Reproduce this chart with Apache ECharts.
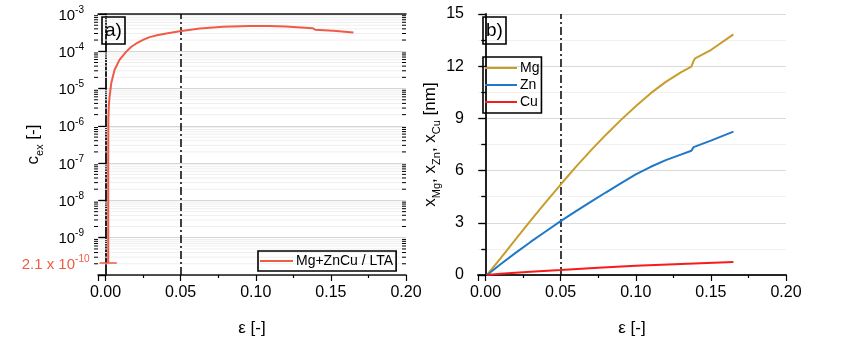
<!DOCTYPE html>
<html>
<head>
<meta charset="utf-8">
<script src="https://cdn.jsdelivr.net/npm/echarts@6/dist/echarts.min.js"></script>
<style>
  html, body { margin: 0; padding: 0; background: #fff; }
  #chart { width: 842px; height: 351px; }
</style>
</head>
<body>
<div id="chart"></div>
<script>
// panel a) excess concentration
const epsA = [0.0018, 0.0018, 0.0019, 0.0022, 0.0027, 0.0038, 0.006, 0.0093, 0.0138, 0.017, 0.0205, 0.025, 0.0293,
  0.035, 0.0405, 0.0493, 0.0627, 0.0782, 0.096, 0.109, 0.12, 0.13, 0.138, 0.1395, 0.1516, 0.165];
const cexA = [2.1e-10, 1e-7, 1.5e-6, 3.5e-6, 6.0e-6, 1.38e-5, 3.16e-5, 5.9e-5, 9.8e-5, 1.3e-4, 1.62e-4, 2.02e-4, 2.4e-4,
  2.72e-4, 3.0e-4, 3.45e-4, 4.1e-4, 4.55e-4, 4.8e-4, 4.75e-4, 4.6e-4, 4.35e-4, 4.15e-4, 3.8e-4, 3.55e-4, 3.2e-4];
const capEps = [-0.004, 0.0075];
const capC = 2.1e-10;

// panel b) x_Mg, x_Zn, x_Cu
const epsMg = [0.001, 0.01, 0.02, 0.03, 0.04, 0.05, 0.06, 0.07, 0.08, 0.09, 0.1, 0.11, 0.12, 0.13, 0.137, 0.1385, 0.1395, 0.15, 0.165];
const xMg = [0, 0.95, 2.05, 3.12, 4.17, 5.2, 6.2, 7.15, 8.05, 8.9, 9.7, 10.45, 11.1, 11.65, 11.97, 12.3, 12.45, 12.93, 13.83];
const epsZn = [0.001, 0.01, 0.02, 0.03, 0.04, 0.05, 0.06, 0.07, 0.08, 0.09, 0.1, 0.11, 0.12, 0.13, 0.137, 0.1385, 0.1395, 0.15, 0.165];
const xZn = [0, 0.62, 1.27, 1.9, 2.5, 3.1, 3.66, 4.2, 4.74, 5.27, 5.78, 6.22, 6.6, 6.92, 7.14, 7.35, 7.43, 7.72, 8.24];
const epsCu = [0.001, 0.01, 0.02, 0.03, 0.05, 0.075, 0.1, 0.13, 0.165];
const xCu = [0, 0.07, 0.13, 0.19, 0.29, 0.42, 0.53, 0.63, 0.74];

const xTicksLabelled = [0, 0.05, 0.1, 0.15, 0.2];
const markEps = 0.05;

const colA = '#ef5b45', colMg = '#c89d2c', colZn = '#1f78c8', colCu = '#f51c1c';
const font = 'Liberation Sans, Arial, sans-serif';
const frame = { show: true, lineStyle: { color: '#1a1a1a', width: 1.6 } };
const dashDot = { color: '#000', width: 1.5, type: [8, 3, 2, 3] };

const log10 = Math.log10;
const pairs = (xs, ys, f) => xs.map((x, i) => [x, f ? f(ys[i]) : ys[i]]);

// log-decade minor positions for panel a
const minorLog = [];
for (let n = -10; n < -3; n++) for (let k = 2; k <= 9; k++) minorLog.push([0, n + log10(k)]);

function xBottom(gridIndex) {
  return {
    gridIndex, type: 'value', min: -0.005, max: 0.2, splitNumber: 4,
    axisLine: frame,
    axisTick: { show: true, length: 6, lineStyle: { color: '#000', width: 1.2 } },
    minorTick: { show: true, splitNumber: 2, length: 3, lineStyle: { color: '#000', width: 1.2 } },
    splitLine: { show: false },
    axisLabel: {
      color: '#000', fontSize: 16, fontFamily: font, margin: 10,
      formatter: v => xTicksLabelled.some(t => Math.abs(t - v) < 1e-9) ? v.toFixed(2) : ''
    },
    name: 'ε [-]', nameLocation: 'middle', nameGap: 45,
    nameTextStyle: { color: '#000', fontSize: 17, fontFamily: font }
  };
}
function xTop(gridIndex) {
  return {
    gridIndex, type: 'value', position: 'top', min: -0.005, max: 0.2,
    axisLine: frame, axisTick: { show: false }, axisLabel: { show: false }, splitLine: { show: false }
  };
}
const boxTitle = (text, left) => ({
  text, left, top: 17, padding: [4, 3, 4, 3], borderColor: '#000', borderWidth: 1.6,
  textStyle: { fontSize: 19, fontWeight: 'normal', color: '#000', fontFamily: font }
});
const legendBox = {
  orient: 'vertical', icon: 'rect', itemHeight: 2, itemGap: 3,
  borderColor: '#000', borderWidth: 1.6, borderRadius: 0,
  textStyle: { fontSize: 14, color: '#000', fontFamily: font, lineHeight: 14, padding: [0, 0, 0, -2] }
};

const option = {
  animation: false,
  backgroundColor: '#fff',
  title: [boxTitle('a)', 102), boxTitle('b)', 483)],
  legend: [
    Object.assign({}, legendBox, { data: ['Mg+ZnCu / LTA'], left: 258, top: 251, padding: [3, 3, 3, 2], itemWidth: 33 }),
    Object.assign({}, legendBox, { data: ['Mg', 'Zn', 'Cu'], left: 483, top: 57, padding: [4, 2, 4, 2], itemWidth: 32 })
  ],
  grid: [
    { left: 98, right: 436, top: 14, bottom: 76 },
    { left: 478, right: 56, top: 14, bottom: 76 }
  ],
  xAxis: [xBottom(0), xTop(0), xBottom(1), xTop(1)],
  yAxis: [
    { gridIndex: 0, type: 'value', min: -10, max: -3, interval: 1,
      axisLine: frame,
      axisTick: { show: true, length: 7, lineStyle: { color: '#000', width: 1.2 } },
      splitLine: { show: true, lineStyle: { color: '#d6d6d6', width: 1 } },
      axisLabel: {
        margin: 14, fontFamily: font,
        formatter: v => v === -10 ? '' : '{n|10}{s|' + v + '}',
        rich: {
          n: { fontSize: 15, color: '#000', fontFamily: font, lineHeight: 18, verticalAlign: 'bottom' },
          s: { fontSize: 10, color: '#000', fontFamily: font, lineHeight: 10, verticalAlign: 'top' }
        }
      },
      name: '{n|c}{s|ex}{n| [-]}', nameLocation: 'middle', nameGap: 53,
      nameTextStyle: {
        rich: {
          n: { fontSize: 17, color: '#000', fontFamily: font, lineHeight: 20, verticalAlign: 'top' },
          s: { fontSize: 11, color: '#000', fontFamily: font, lineHeight: 11, verticalAlign: 'bottom' }
        }
      }
    },
    { gridIndex: 0, type: 'value', position: 'right', min: -10, max: -3, interval: 1,
      axisLine: frame,
      axisTick: { show: true, inside: true, length: 7, lineStyle: { color: '#000', width: 1.2 } },
      axisLabel: { show: false }, splitLine: { show: false } },
    { gridIndex: 1, type: 'value', min: 0, max: 15, interval: 3,
      axisLine: frame,
      axisTick: { show: true, length: 7, lineStyle: { color: '#000', width: 1.2 } },
      minorTick: { show: true, splitNumber: 2, length: 4, lineStyle: { color: '#000', width: 1.2 } },
      splitLine: { show: true, lineStyle: { color: '#dadada', width: 1 } },
      minorSplitLine: { show: true, lineStyle: { color: '#f0f0f0', width: 1 } },
      axisLabel: { color: '#000', fontSize: 16, fontFamily: font, margin: 14 },
      name: '{n|x}{s|Mg}{n|, x}{s|Zn}{n|, x}{s|Cu}{n| [nm]}', nameLocation: 'middle', nameGap: 36,
      nameTextStyle: {
        rich: {
          n: { fontSize: 17, color: '#000', fontFamily: font, lineHeight: 20, verticalAlign: 'top' },
          s: { fontSize: 11, color: '#000', fontFamily: font, lineHeight: 11, verticalAlign: 'bottom' }
        }
      }
    },
    { gridIndex: 1, type: 'value', position: 'right', min: 0, max: 15, interval: 3,
      axisLine: frame,
      axisTick: { show: true, inside: true, length: 7, lineStyle: { color: '#000', width: 1.2 } },
      minorTick: { show: true, splitNumber: 2, length: 4, lineStyle: { color: '#000', width: 1.2 } },
      axisLabel: { show: false }, splitLine: { show: false } }
  ],
  series: [
    {
      // minor log grid lines + ticks for panel a
      type: 'custom', xAxisIndex: 0, yAxisIndex: 0, silent: true, clip: false, z: 1,
      data: minorLog,
      renderItem: (params, api) => {
        const cs = params.coordSys;
        const y = api.coord([0, api.value(1)])[1];
        return {
          type: 'group', children: [
            { type: 'line', shape: { x1: cs.x, y1: y, x2: cs.x + cs.width, y2: y }, style: { stroke: '#efefef', lineWidth: 1 } },
            { type: 'line', shape: { x1: cs.x - 4, y1: y, x2: cs.x, y2: y }, style: { stroke: '#000', lineWidth: 1 } },
            { type: 'line', shape: { x1: cs.x + cs.width - 4, y1: y, x2: cs.x + cs.width, y2: y }, style: { stroke: '#000', lineWidth: 1 } }
          ]
        };
      }
    },
    {
      name: 'Mg+ZnCu / LTA', type: 'line', xAxisIndex: 0, yAxisIndex: 0,
      data: pairs(epsA, cexA, log10), symbol: 'none', z: 5,
      lineStyle: { color: colA, width: 2 }, itemStyle: { color: colA },
      markLine: {
        silent: true, symbol: 'none', lineStyle: dashDot, label: { show: false },
        data: [{ xAxis: markEps }]
      }
    },
    {
      name: 'cap', type: 'line', xAxisIndex: 0, yAxisIndex: 0, data: [], z: 5,
      markLine: {
        silent: true, symbol: 'none', lineStyle: { color: colA, width: 1.5, type: 'solid' },
        label: {
          show: true, position: 'start', distance: 10,
          formatter: '{n|2.1 x 10}{s|-10}',
          rich: {
            n: { fontSize: 15, color: colA, fontFamily: font, lineHeight: 18, verticalAlign: 'bottom' },
            s: { fontSize: 10, color: colA, fontFamily: font, lineHeight: 10, verticalAlign: 'top' }
          }
        },
        data: [[{ coord: [capEps[0], log10(capC)] }, { coord: [capEps[1], log10(capC)] }]]
      }
    },
    {
      name: 'Mg', type: 'line', xAxisIndex: 2, yAxisIndex: 2, data: pairs(epsMg, xMg),
      symbol: 'none', z: 5, lineStyle: { color: colMg, width: 2 }, itemStyle: { color: colMg },
      markLine: {
        silent: true, symbol: 'none', lineStyle: dashDot, label: { show: false },
        data: [{ xAxis: markEps }]
      }
    },
    {
      name: 'Zn', type: 'line', xAxisIndex: 2, yAxisIndex: 2, data: pairs(epsZn, xZn),
      symbol: 'none', z: 5, lineStyle: { color: colZn, width: 2 }, itemStyle: { color: colZn }
    },
    {
      name: 'Cu', type: 'line', xAxisIndex: 2, yAxisIndex: 2, data: pairs(epsCu, xCu),
      symbol: 'none', z: 5, lineStyle: { color: colCu, width: 2 }, itemStyle: { color: colCu }
    }
  ]
};

const chart = echarts.init(document.getElementById('chart'), null, { renderer: 'canvas' });
chart.setOption(option);
window.addEventListener('resize', () => chart.resize());
</script>
</body>
</html>
